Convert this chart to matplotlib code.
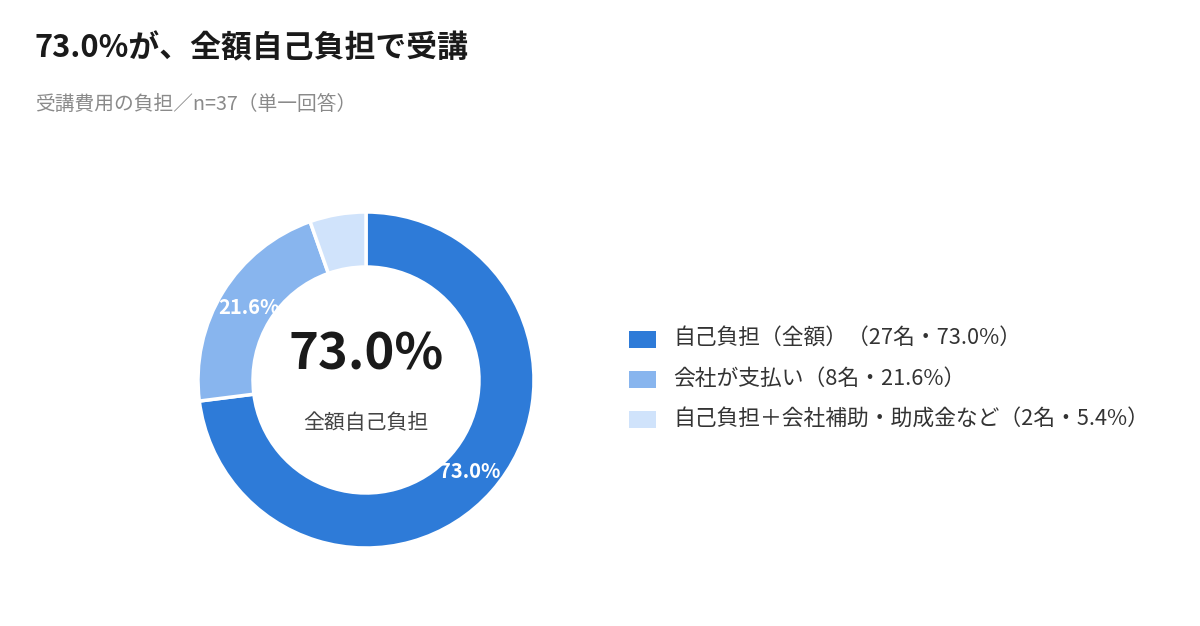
import matplotlib
matplotlib.use("Agg")
import matplotlib.pyplot as plt
from matplotlib.patches import Rectangle
import numpy as np

plt.rcParams['font.family'] = ['Noto Sans CJK JP', 'DejaVu Sans']

title = "73.0%が、全額自己負担で受講"
subtitle = "受講費用の負担／n=37（単一回答）"
categories = ["自己負担（全額）", "会社が支払い", "自己負担＋会社補助・助成金など"]
counts = [27, 8, 2]
percents = [73.0, 21.6, 5.4]
colors = ["#2e7bd8", "#88b5ee", "#d0e3fb"]
center_value = "73.0%"
center_label = "全額自己負担"

W, H = 1200, 626
fig = plt.figure(figsize=(W / 100, H / 100), dpi=100)

# Title and subtitle
fig.text(35 / W, 1 - 48 / H, title, fontsize=22.2, fontweight='bold', color='#1a1a1a',
         ha='left', va='center')
fig.text(35 / W, 1 - 104 / H, subtitle, fontsize=14.2, color='#8a8a8a',
         ha='left', va='center')

# Donut
cx, cy, R = 366, 380, 168
half = 172
ax = fig.add_axes([(cx - half) / W, (H - cy - half) / H, 2 * half / W, 2 * half / H])
wedges, _ = ax.pie(percents, colors=colors, startangle=90, counterclock=False,
                   radius=1.0,
                   wedgeprops=dict(width=55 / R, edgecolor='white', linewidth=2.5))
ax.set_xlim(-half / R, half / R)
ax.set_ylim(-half / R, half / R)
ax.set_aspect('equal')
ax.axis('off')

label_r = 138 / R
for w, p in zip(wedges, percents):
    if p < 10:
        continue
    ang = np.deg2rad((w.theta1 + w.theta2) / 2)
    ax.text(label_r * np.cos(ang), label_r * np.sin(ang), f"{p:.1f}%",
            ha='center', va='center', fontsize=14.5, fontweight='bold', color='white')

ax.text(0, 25 / R, center_value, ha='center', va='center', fontsize=36.5,
        fontweight='bold', color='#1a1a1a')
ax.text(0, -43 / R, center_label, ha='center', va='center', fontsize=15,
        color='#444444')

# Legend
y0, dy = 339, 40
for i, (cat, n, p, c) in enumerate(zip(categories, counts, percents, colors)):
    yy = y0 + i * dy
    fig.patches.append(Rectangle((629 / W, 1 - (yy + 8.5) / H), 27 / W, 17 / H,
                                 transform=fig.transFigure, facecolor=c,
                                 edgecolor='none'))
    fig.text(673 / W, 1 - yy / H, f"{cat}（{n}名・{p:.1f}%）", fontsize=15.7,
             color='#333333', ha='left', va='center')

fig.savefig("out.png", dpi=100, facecolor='white')
